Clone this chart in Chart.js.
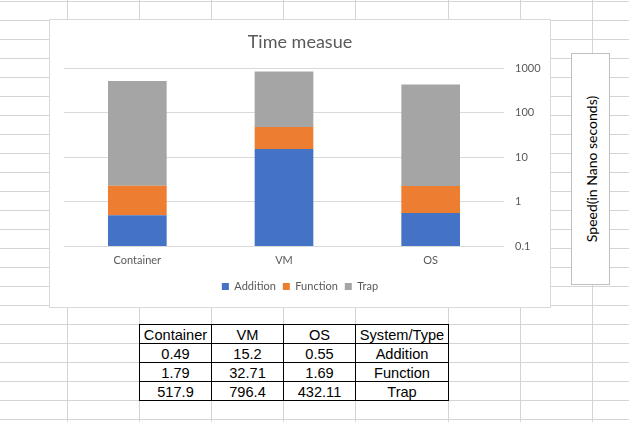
<!DOCTYPE html>
<html>
<head>
<meta charset="utf-8">
<script src="https://cdn.jsdelivr.net/npm/chart.js@4/dist/chart.umd.min.js"></script>
<style>
  html, body { margin:0; padding:0; background:#fff; width:629px; height:422px; overflow:hidden; }
  #sheet { position:absolute; left:0; top:0; width:629px; height:422px; }
  .gl { position:absolute; background:#d4d4d4; }
  .tl { position:absolute; background:#000; }
  .cell { position:absolute; height:19px; line-height:20px; text-align:center;
          font-family:"Liberation Sans", Arial, sans-serif; font-size:14.6px; color:#000; white-space:nowrap; }
  #chartBox { position:absolute; left:49px; top:19px; width:502px; height:289px; box-sizing:border-box;
              border:1px solid #d9d9d9; background:#fff; }
  #chartBox canvas { display:block; }
  #textBox { position:absolute; left:571px; top:53px; width:39px; height:232px; box-sizing:border-box;
             border:1px solid #bfbfbf; background:#fff; }
  #textBox span { position:absolute; left:50%; top:50%; transform:translate(-50%,-50%) rotate(-90deg);
                  font-family:Lato, sans-serif; font-size:14px; color:#000; white-space:nowrap; }
</style>
</head>
<body>
<div id="sheet"></div>
<div id="chartBox"><canvas id="c" width="500" height="287"></canvas></div>
<div id="textBox"><span>Speed(in Nano seconds)</span></div>
<script>
// ---- data ----
const categories = ['Container', 'VM', 'OS'];
const seriesNames = ['Addition', 'Function', 'Trap'];
const addition = [0.49, 15.2, 0.55];
const functionVals = [1.79, 32.71, 1.69];
const trap = [517.9, 796.4, 432.11];
const yTicks = [0.1, 1, 10, 100, 1000];
const tableCorner = 'System/Type';
const chartTitle = 'Time measue';

// ---- spreadsheet grid (layout) ----
const sheet = document.getElementById('sheet');
const colLines = [67, 139, 211, 283, 355, 448, 520, 592];
function line(cls, x, y, w, h) {
  const d = document.createElement('div');
  d.className = cls;
  d.style.left = x + 'px'; d.style.top = y + 'px';
  d.style.width = w + 'px'; d.style.height = h + 'px';
  sheet.appendChild(d);
}
colLines.forEach(x => line('gl', x, 0, 1, 422));
for (let y = 1; y < 422; y += 19) line('gl', 0, y, 629, 1);

// ---- data table ----
const tCols = [139, 211, 283, 355, 448];
const tTop = 324, rowH = 19;
const tableRows = [
  [...categories, tableCorner],
  [...addition.map(String), seriesNames[0]],
  [...functionVals.map(String), seriesNames[1]],
  [...trap.map(String), seriesNames[2]]
];
tableRows.forEach((row, r) => {
  row.forEach((txt, c) => {
    const d = document.createElement('div');
    d.className = 'cell';
    d.style.left = (tCols[c] + 1) + 'px';
    d.style.top = (tTop + r * rowH + 1) + 'px';
    d.style.width = (tCols[c + 1] - tCols[c] - 1) + 'px';
    d.textContent = txt;
    sheet.appendChild(d);
  });
});
for (let r = 0; r <= tableRows.length; r++) line('tl', tCols[0], tTop + r * rowH, tCols[tCols.length - 1] - tCols[0] + 1, 1);
tCols.forEach(x => line('tl', x, tTop, 1, tableRows.length * rowH + 1));

// ---- chart ----
const colors = ['#4472C4', '#ED7D31', '#A5A5A5'];
const seriesData = [addition, functionVals, trap];
new Chart(document.getElementById('c'), {
  type: 'bar',
  data: {
    labels: categories,
    datasets: seriesNames.map((n, i) => ({
      label: n, data: seriesData[i], backgroundColor: colors[i], borderWidth: 0,
      categoryPercentage: 1, barPercentage: 0.4, yAxisID: 'y'
    }))
  },
  options: {
    responsive: false, animation: false, devicePixelRatio: 1,
    layout: { padding: { left: 0, right: 0, top: 0, bottom: 5 } },
    plugins: {
      title: { display: true, text: chartTitle, color: '#595959',
               font: { family: 'Lato', size: 18, weight: 'normal' }, padding: { top: 11, bottom: 15.7 } },
      legend: { position: 'bottom',
                labels: { color: '#595959', font: { family: 'Lato', size: 11 }, boxWidth: 7, boxHeight: 7, padding: 7 } },
      tooltip: { enabled: false }
    },
    scales: {
      x: { stacked: true, grid: { display: false, drawTicks: false }, border: { display: false },
           ticks: { color: '#595959', font: { family: 'Lato', size: 11 }, padding: 8 },
           afterFit: s => { s.height = 28; } },
      spacer: { type: 'linear', position: 'left', display: true,
                grid: { display: false, drawTicks: false }, border: { display: false },
                ticks: { display: false }, afterFit: s => { s.width = 14; } },
      y: { type: 'logarithmic', position: 'right', stacked: true, min: 0.1, max: 1000,
           grid: { color: '#d9d9d9', drawTicks: false }, border: { display: false },
           afterBuildTicks: s => { s.ticks = yTicks.map(v => ({ value: v })); },
           ticks: { color: '#595959', font: { family: 'Lato', size: 11 }, padding: 11,
                    callback: v => String(v) },
           afterFit: s => { s.width = 46; } }
    }
  }
});
</script>
</body>
</html>
